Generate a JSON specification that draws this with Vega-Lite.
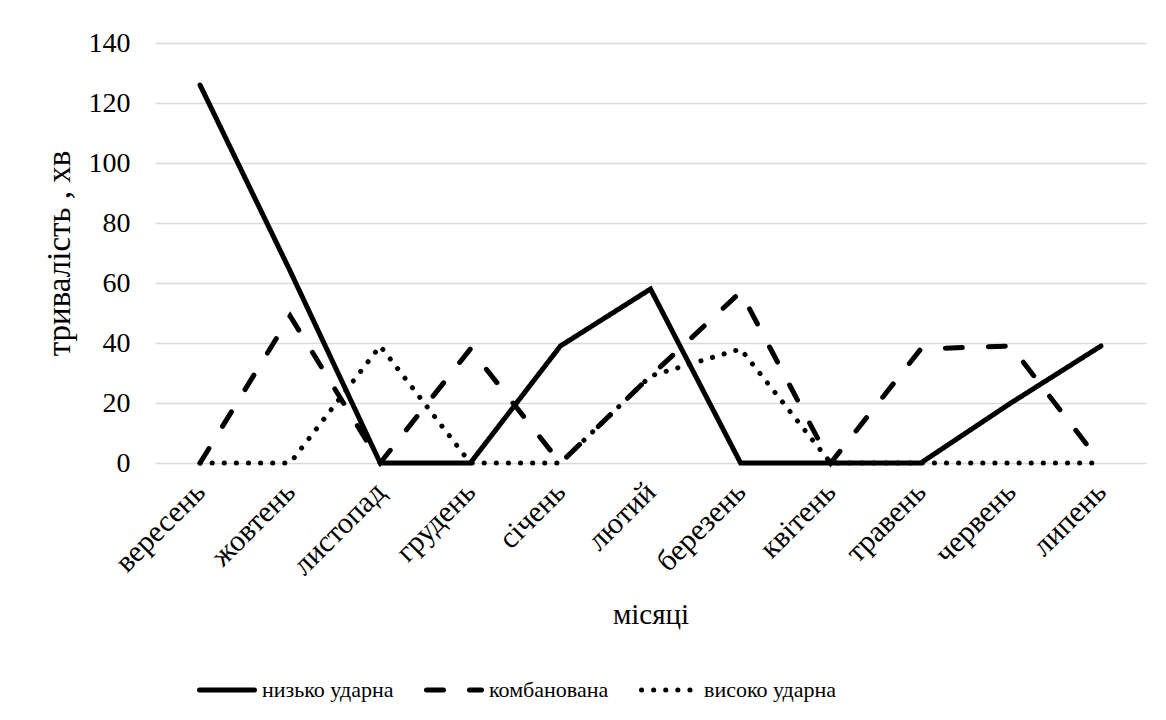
{
  "$schema": "https://vega.github.io/schema/vega-lite/v6.json",
  "width": 991,
  "height": 420,
  "autosize": "none",
  "padding": {"left": 155, "top": 43, "right": 20, "bottom": 257},
  "background": "white",
  "data": {
    "values": [
      {"month": "вересень", "series": "низько ударна", "value": 126},
      {"month": "жовтень", "series": "низько ударна", "value": 64},
      {"month": "листопад", "series": "низько ударна", "value": 0},
      {"month": "грудень", "series": "низько ударна", "value": 0},
      {"month": "січень", "series": "низько ударна", "value": 39},
      {"month": "лютий", "series": "низько ударна", "value": 58},
      {"month": "березень", "series": "низько ударна", "value": 0},
      {"month": "квітень", "series": "низько ударна", "value": 0},
      {"month": "травень", "series": "низько ударна", "value": 0},
      {"month": "червень", "series": "низько ударна", "value": 20},
      {"month": "липень", "series": "низько ударна", "value": 39},
      {"month": "вересень", "series": "комбанована", "value": 0},
      {"month": "жовтень", "series": "комбанована", "value": 49},
      {"month": "листопад", "series": "комбанована", "value": 0},
      {"month": "грудень", "series": "комбанована", "value": 38},
      {"month": "січень", "series": "комбанована", "value": 0},
      {"month": "лютий", "series": "комбанована", "value": 29},
      {"month": "березень", "series": "комбанована", "value": 57},
      {"month": "квітень", "series": "комбанована", "value": 0},
      {"month": "травень", "series": "комбанована", "value": 38},
      {"month": "червень", "series": "комбанована", "value": 39},
      {"month": "липень", "series": "комбанована", "value": 0},
      {"month": "вересень", "series": "високо ударна", "value": 0},
      {"month": "жовтень", "series": "високо ударна", "value": 0},
      {"month": "листопад", "series": "високо ударна", "value": 39},
      {"month": "грудень", "series": "високо ударна", "value": 0},
      {"month": "січень", "series": "високо ударна", "value": 0},
      {"month": "лютий", "series": "високо ударна", "value": 29},
      {"month": "березень", "series": "високо ударна", "value": 38},
      {"month": "квітень", "series": "високо ударна", "value": 0},
      {"month": "травень", "series": "високо ударна", "value": 0},
      {"month": "червень", "series": "високо ударна", "value": 0},
      {"month": "липень", "series": "високо ударна", "value": 0}
    ]
  },
  "mark": {"type": "line", "color": "black", "strokeWidth": 5, "strokeCap": "round", "strokeJoin": "miter"},
  "encoding": {
    "x": {
      "field": "month",
      "type": "nominal",
      "sort": null,
      "scale": {"type": "point", "padding": 0.5},
      "axis": {
        "title": "місяці",
        "titleFontSize": 29,
        "titleFont": "Liberation Serif",
        "titleFontWeight": "normal",
        "titleColor": "black",
        "titlePadding": 20,
        "labelAngle": -45,
        "labelAlign": "right",
        "labelBaseline": "middle",
        "labelFont": "Liberation Serif",
        "labelFontSize": 30,
        "labelColor": "black",
        "labelPadding": 24,
        "domain": false,
        "ticks": false,
        "grid": false
      }
    },
    "y": {
      "field": "value",
      "type": "quantitative",
      "scale": {"domain": [0, 140], "nice": false},
      "axis": {
        "title": "тривалість , хв",
        "titleFontSize": 33,
        "titleFont": "Liberation Serif",
        "titleFontWeight": "normal",
        "titleColor": "black",
        "titlePadding": 12,
        "values": [0, 20, 40, 60, 80, 100, 120, 140],
        "labelFont": "Liberation Serif",
        "labelFontSize": 28,
        "labelColor": "black",
        "labelPadding": 25,
        "domain": false,
        "ticks": false,
        "grid": true,
        "gridColor": "#d9d9d9",
        "gridWidth": 1.5
      }
    },
    "strokeDash": {
      "field": "series",
      "type": "nominal",
      "scale": {
        "domain": ["низько ударна", "комбанована", "високо ударна"],
        "range": [[1, 0], [17, 26], [0.1, 12]]
      },
      "legend": {
        "title": null,
        "orient": "none",
        "direction": "horizontal",
        "legendX": 42,
        "legendY": 617,
        "symbolSize": 3025,
        "symbolStrokeWidth": 5,
        "symbolStrokeColor": "black",
        "labelFont": "Liberation Serif",
        "labelFontSize": 22,
        "labelColor": "black",
        "labelOffset": 5,
        "columnPadding": 22,
        "encoding": {
          "symbols": {"strokeCap": {"value": "round"}}
        }
      }
    }
  },
  "config": {
    "view": {"stroke": null}
  }
}
